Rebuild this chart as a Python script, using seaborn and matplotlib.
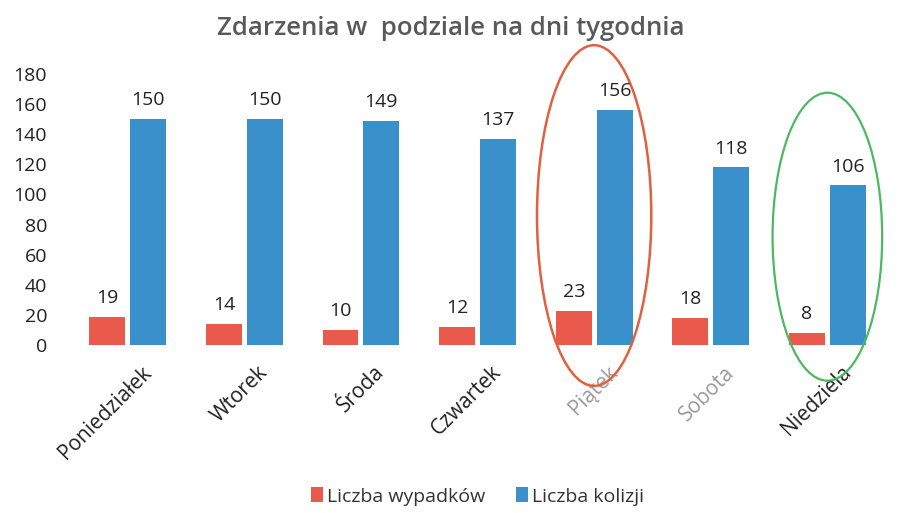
import matplotlib
matplotlib.use("Agg")
import matplotlib.pyplot as plt
import matplotlib.transforms as mtransforms
from matplotlib.patches import Ellipse
import seaborn as sns
import pandas as pd

days = ["Poniedziałek", "Wtorek", "Środa", "Czwartek", "Piątek", "Sobota", "Niedziela"]
wypadki = [19, 14, 10, 12, 23, 18, 8]
kolizje = [150, 150, 149, 137, 156, 118, 106]
series = ["Liczba wypadków", "Liczba kolizji"]
colors = ["#EA5A4C", "#3A90CB"]

df = pd.DataFrame({
    "day": days * 2,
    "value": wypadki + kolizje,
    "series": [series[0]] * len(days) + [series[1]] * len(days),
})

sns.set_theme(style="white")
plt.rcParams["font.family"] = ["Open Sans", "DejaVu Sans"]

fig = plt.figure(figsize=(9.01, 5.13), dpi=100)
ax = fig.add_axes([0.077, 0.327, 0.906, 0.529])

sns.barplot(data=df, x="day", y="value", hue="series", palette=colors,
            order=days, hue_order=series, width=0.7, gap=0.12, ax=ax,
            edgecolor="none", saturation=1, legend=True)

for cont in ax.containers:
    ax.bar_label(cont, padding=7, fontsize=14, color="#222222")

ax.set_ylim(0, 180)
ax.set_xlim(-0.5, len(days) - 0.5)
ax.set_yticks(range(0, 181, 20))
ax.tick_params(axis="y", labelsize=14, labelcolor="#222222", length=0, pad=16)
ax.tick_params(axis="x", length=0, pad=12)
for s in ax.spines.values():
    s.set_visible(False)
ax.set_xlabel("")
ax.set_ylabel("")

offset = mtransforms.ScaledTranslation(0.13, 0, fig.dpi_scale_trans)
faded = {"Piątek", "Sobota"}
for lbl in ax.get_xticklabels():
    lbl.set_rotation(45)
    lbl.set_ha("right")
    lbl.set_rotation_mode("anchor")
    lbl.set_fontsize(15)
    lbl.set_color("#9a9a9a" if lbl.get_text() in faded else "#222222")
    lbl.set_transform(lbl.get_transform() + offset)

fig.suptitle("Zdarzenia w  podziale na dni tygodnia", y=0.968, fontsize=18.5,
             fontweight="semibold", color="#595959")

# annotation ellipses around Piątek and Niedziela
ip = days.index("Piątek")
inn = days.index("Niedziela")
ax.add_patch(Ellipse((ip, 86), 0.98, 226, fill=False, edgecolor="#E0603F",
                     lw=1.8, clip_on=False))
ax.add_patch(Ellipse((inn, 72), 0.94, 191, fill=False, edgecolor="#4CB860",
                     lw=1.6, clip_on=False))

leg = ax.legend(loc="lower center", bbox_to_anchor=(0.5, -0.655), ncol=2,
                frameon=False, fontsize=14, handlelength=0.6, handleheight=0.8,
                handletextpad=0.2, columnspacing=1.6)
for t in leg.get_texts():
    t.set_color("#333333")

fig.savefig("out.png", dpi=100)
